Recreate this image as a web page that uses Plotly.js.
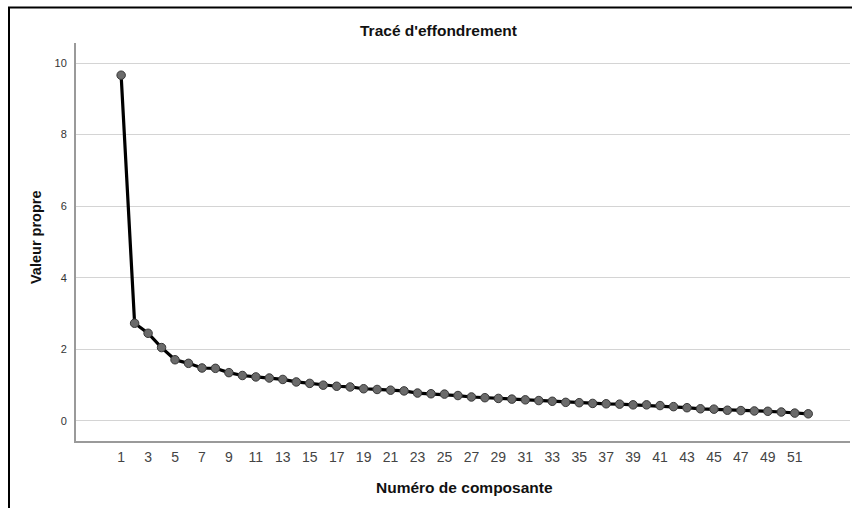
<!DOCTYPE html>
<html>
<head>
<meta charset="utf-8">
<script src="https://cdn.plot.ly/plotly-3.0.1.min.js"></script>
<style>
  html, body { margin: 0; padding: 0; background: #fff; }
  #chart { width: 852px; height: 508px; }
</style>
</head>
<body>
<div id="chart"></div>
<script>
const components = [1,2,3,4,5,6,7,8,9,10,11,12,13,14,15,16,17,18,19,20,21,22,23,24,25,26,
  27,28,29,30,31,32,33,34,35,36,37,38,39,40,41,42,43,44,45,46,47,48,49,50,51,52];
const eigenvalues = [9.66,2.73,2.45,2.05,1.71,1.61,1.48,1.47,1.35,1.27,
  1.23,1.20,1.16,1.09,1.05,1.00,0.97,0.95,0.90,0.88,
  0.86,0.84,0.78,0.76,0.75,0.71,0.67,0.65,0.63,0.61,
  0.59,0.57,0.55,0.52,0.51,0.49,0.48,0.47,0.45,0.45,
  0.43,0.40,0.37,0.34,0.33,0.30,0.29,0.28,0.27,0.25,0.22,0.20];
const xTickVals = [1,3,5,7,9,11,13,15,17,19,21,23,25,27,29,31,33,35,37,39,41,43,45,47,49,51];
const yTickVals = [0,2,4,6,8,10];
const chartTitle = "Tracé d'effondrement";
const xTitle = "Numéro de composante";
const yTitle = "Valeur propre";

const W = 852, H = 508;
const M = {l: 76, r: 2, t: 43, b: 67};
const pw = W - M.l - M.r, ph = H - M.t - M.b;
const px = x => (x - M.l) / pw;
const py = y => (H - M.b - y) / ph;

const trace = {
  x: components,
  y: eigenvalues,
  type: 'scatter',
  mode: 'lines+markers',
  line: {color: '#000000', width: 3.2},
  marker: {size: 8.5, color: '#6b6b6b', line: {color: '#383838', width: 1}},
  hoverinfo: 'x+y'
};

const layout = {
  width: W, height: H,
  margin: M,
  paper_bgcolor: '#ffffff',
  plot_bgcolor: '#ffffff',
  showlegend: false,
  font: {family: 'Liberation Sans, Arial, sans-serif', color: '#222222'},
  xaxis: {
    range: [-2.35, 55.1],
    tickvals: xTickVals,
    ticktext: xTickVals.map(String),
    showgrid: false,
    zeroline: false,
    showline: true,
    linecolor: '#9a9a9a',
    linewidth: 2,
    ticks: '',
    tickfont: {size: 14, color: '#444444'},
    ticklabelstandoff: 2
  },
  yaxis: {
    range: [-0.56, 10.56],
    tickvals: yTickVals,
    showgrid: true,
    gridcolor: '#d4d4d4',
    gridwidth: 1,
    zeroline: false,
    showline: true,
    linecolor: '#9a9a9a',
    linewidth: 2,
    ticks: '',
    tickfont: {size: 11, color: '#333333'},
    ticklabelstandoff: 5
  },
  annotations: [
    {text: '<b>' + chartTitle + '</b>', xref: 'paper', yref: 'paper',
     x: px(438.5), y: py(30.5), xanchor: 'center', yanchor: 'middle',
     showarrow: false, font: {size: 15.5, color: '#111111'}},
    {text: '<b>' + xTitle + '</b>', xref: 'paper', yref: 'paper',
     x: px(464), y: py(488), xanchor: 'center', yanchor: 'middle',
     showarrow: false, font: {size: 15.5, color: '#111111'}},
    {text: '<b>' + yTitle + '</b>', xref: 'paper', yref: 'paper',
     x: px(36), y: py(238), xanchor: 'center', yanchor: 'middle', textangle: -90,
     showarrow: false, font: {size: 14.5, color: '#111111'}}
  ],
  shapes: [
    {type: 'line', xref: 'paper', yref: 'paper', x0: px(9), x1: px(9), y0: py(H + 2), y1: py(7),
     line: {color: '#000000', width: 2}},
    {type: 'line', xref: 'paper', yref: 'paper', x0: px(8), x1: px(W + 2), y0: py(7.5), y1: py(7.5),
     line: {color: '#000000', width: 2}}
  ]
};

Plotly.newPlot('chart', [trace], layout, {displayModeBar: false, staticPlot: true});
</script>
</body>
</html>
